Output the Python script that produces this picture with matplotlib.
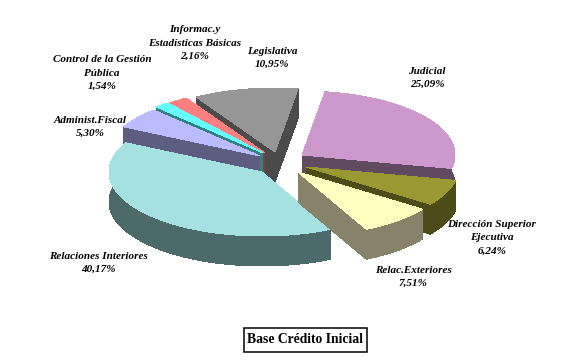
import numpy as np
import matplotlib
matplotlib.use("Agg")
import matplotlib.pyplot as plt
from matplotlib.patches import Rectangle

labels = ["Legislativa\n10,95%", "Judicial\n25,09%", "Dirección Superior\nEjecutiva\n6,24%",
          "Relac.Exteriores\n7,51%", "Relaciones Interiores\n40,17%", "Administ.Fiscal\n5,30%",
          "Control de la Gestión\nPública\n1,54%", "Informac.y\nEstadísticas Básicas\n2,16%"]
values = [10.95, 25.09, 6.24, 7.51, 40.17, 5.30, 1.54, 2.16]
top_colors = ["#969696", "#CC99CC", "#999933", "#FFFFC0", "#A5E1E1", "#BBBBFF", "#66FFFF", "#FF8080"]
wall_colors = ["#4B4B4B", "#604A60", "#4C4C19", "#87826A", "#4C6A6A", "#5D5D80", "#338080", "#804040"]
apex_x = [275, 302, 306, 298, 262, 260, 263, 265]
apex_y = [152, 155, 167, 172, 172, 156, 153, 153]
label_x = [272, 427, 492, 413, 98, 90, 102, 195]
label_y = [58, 78, 238, 277, 263, 127, 73, 43]
draw_order = [0, 7, 6, 5, 4, 1, 2, 3]

START_DEG = -31.2
FRONT_WARP_DEG = 3.8   # foreshortening of the 3D view toward the front of the pie
RX, RY, DEPTH = 153, 64, 30

fig = plt.figure(figsize=(5.74, 3.64), dpi=100, facecolor="white")
ax = fig.add_axes([0, 0, 1, 1])
ax.set_xlim(0, 574)
ax.set_ylim(364, 0)
ax.axis("off")

spans = np.array(values) / sum(values) * 360
starts = START_DEG + np.concatenate([[0], np.cumsum(spans)[:-1]])


def fill(xs, ys, color, z):
    ax.fill(xs, ys, color=color, lw=0, antialiased=False, zorder=z)


for rank, i in enumerate(draw_order):
    cx, cy = apex_x[i], apex_y[i]
    deg = np.linspace(starts[i], starts[i] + spans[i], 160)
    t = np.radians(deg)
    t = t + np.radians(FRONT_WARP_DEG) * (1 - np.cos(t)) / 2
    x = cx + RX * np.sin(t)
    y = cy - RY * np.cos(t)
    z = 2 + rank
    # radial walls
    for ex, ey in ((x[0], y[0]), (x[-1], y[-1])):
        fill([cx, ex, ex, cx], [cy, ey, ey + DEPTH, cy + DEPTH], wall_colors[i], z)
    # outer wall
    fill(np.r_[x, x[::-1]], np.r_[y, y[::-1] + DEPTH], wall_colors[i], z)
    # top face
    fill(np.r_[cx, x], np.r_[cy, y], top_colors[i], z)

for s, lx, ly in zip(labels, label_x, label_y):
    ax.text(lx, ly, s, ha="center", va="center", family="Liberation Serif",
            style="italic", weight="bold", fontsize=8.0, linespacing=1.6, color="black", zorder=20)

ax.add_patch(Rectangle((243.5, 327.5), 123, 24, fc="white", ec="black", lw=1.1, zorder=19))
ax.text(305, 339.5, "Base Crédito Inicial", ha="center", va="center", family="Liberation Serif",
        weight="bold", fontsize=9.8, color="black", zorder=20)

fig.savefig("out.png", dpi=100, facecolor="white")
